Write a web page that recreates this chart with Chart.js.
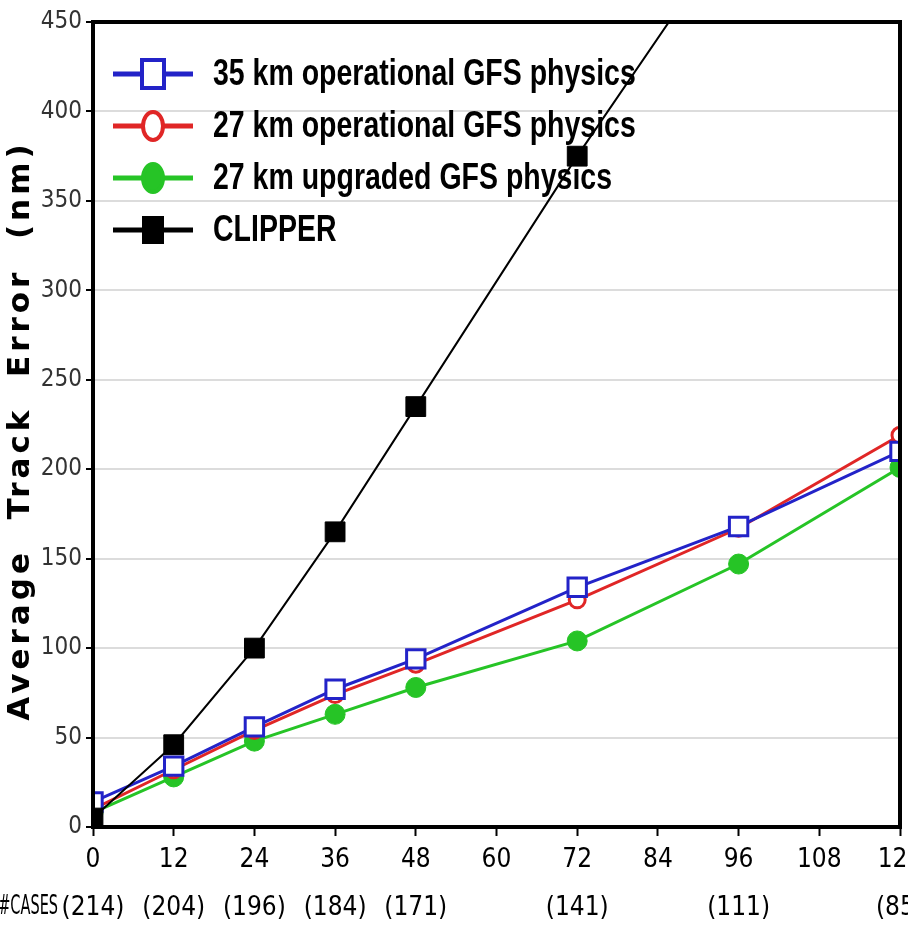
<!DOCTYPE html>
<html>
<head>
<meta charset="utf-8">
<script src="https://cdn.jsdelivr.net/npm/chart.js@4.4.0/dist/chart.umd.min.js"></script>
<style>
  html, body { margin: 0; padding: 0; background: #fff; overflow: hidden; }
  #wrap { width: 908px; height: 927px; }
</style>
</head>
<body>
<div id="wrap"><canvas id="track"></canvas></div>
<script>
// forecast hour, and the verifying case count at each hour
const hours = [0, 12, 24, 36, 48, 72, 96, 120];
const cases = [214, 204, 196, 184, 171, 141, 111, 85];

// average track error (nm)
const ops35 = [14, 34, 56, 77, 94, 134, 168, 210];
const ops27 = [10, 32, 54, 74, 91, 127, 167, 219];
const upg27 = [8, 28, 48, 63, 78, 104, 147, 201];
const clipper = [5, 46, 100, 165, 235, 375, 507, null];

const seriesNames = [
  '35 km operational GFS physics',
  '27 km operational GFS physics',
  '27 km upgraded GFS physics',
  'CLIPPER'
];

const narrow = "'DejaVu Sans Condensed', 'Liberation Sans', sans-serif";

const pts = arr => hours.map((h, i) => ({ x: h, y: arr[i] }));

// squeezed text helper (condensed look)
function squeezed(ctx, text, x, y, sx) {
  ctx.save();
  ctx.translate(x, y);
  ctx.scale(sx, 1);
  ctx.fillText(text, 0, 0);
  ctx.restore();
}

// legend drawn inside the plot, line + marker + label
const insideLegend = {
  id: 'insideLegend',
  afterDatasetsDraw(chart) {
    const ctx = chart.ctx;
    ctx.save();
    chart.data.datasets.forEach((ds, i) => {
      const y = 74 + i * 52;
      const cx = 153;
      ctx.strokeStyle = ds.borderColor;
      ctx.lineWidth = 5;
      ctx.beginPath();
      ctx.moveTo(113, y);
      ctx.lineTo(193, y);
      ctx.stroke();
      ctx.lineWidth = 4;
      ctx.fillStyle = ds.pointBackgroundColor;
      if (ds.pointStyle === 'rect') {
        ctx.fillRect(cx - 11, y - 14, 22, 28);
        if (ds.pointBackgroundColor === '#ffffff') ctx.strokeRect(cx - 11, y - 14, 22, 28);
      } else {
        ctx.beginPath();
        ctx.ellipse(cx, y, 10, 14, 0, 0, Math.PI * 2);
        ctx.fill();
        ctx.stroke();
      }
      ctx.fillStyle = '#000';
      ctx.font = "bold 37px 'Liberation Sans', Arial, sans-serif";
      ctx.textBaseline = 'middle';
      ctx.textAlign = 'left';
      squeezed(ctx, ds.label, 213, y + 1, 0.77);
    });
    ctx.restore();
  }
};

// heavy frame round the plot, axis title and the case-count caption
const frame = {
  id: 'frame',
  afterDraw(chart) {
    const { ctx, chartArea: a } = chart;
    ctx.save();
    ctx.strokeStyle = '#000';
    ctx.lineWidth = 4;
    ctx.strokeRect(a.left, a.top, a.right - a.left, a.bottom - a.top);

    ctx.fillStyle = '#000';
    ctx.font = "26px " + narrow;
    ctx.textAlign = 'right';
    ctx.textBaseline = 'middle';
    squeezed(ctx, '#CASES', 58, 907, 0.62);

    ctx.translate(21, (a.top + a.bottom) / 2 + 6);
    ctx.rotate(-Math.PI / 2);
    ctx.textAlign = 'center';
    ctx.font = "bold 31px 'DejaVu Sans', sans-serif";
    ctx.letterSpacing = '4px';
    ctx.fillText('Average  Track  Error  (nm)', 0, 0);
    ctx.restore();
  }
};

new Chart(document.getElementById('track'), {
  type: 'line',
  data: {
    datasets: [
      {
        label: seriesNames[0], data: pts(ops35),
        borderColor: '#2323c8', borderWidth: 3,
        pointStyle: 'rect', pointRadius: 13, pointBorderWidth: 3,
        pointBackgroundColor: '#ffffff', pointBorderColor: '#2323c8',
        order: 1, clip: 0
      },
      {
        label: seriesNames[1], data: pts(ops27),
        borderColor: '#e02626', borderWidth: 3,
        pointStyle: 'circle', pointRadius: 8, pointBorderWidth: 3,
        pointBackgroundColor: '#ffffff', pointBorderColor: '#e02626',
        order: 2, clip: 0
      },
      {
        label: seriesNames[2], data: pts(upg27),
        borderColor: '#26c426', borderWidth: 3,
        pointStyle: 'circle', pointRadius: 10, pointBorderWidth: 1,
        pointBackgroundColor: '#26c426', pointBorderColor: '#26c426',
        order: 3, clip: 0
      },
      {
        label: seriesNames[3], data: pts(clipper),
        borderColor: '#000000', borderWidth: 2,
        pointStyle: 'rect', pointRadius: 14, pointBorderWidth: 1,
        pointBackgroundColor: '#000000', pointBorderColor: '#000000',
        order: 0, clip: 0
      }
    ]
  },
  options: {
    responsive: true,
    maintainAspectRatio: false,
    animation: false,
    layout: { autoPadding: false, padding: { top: 22, right: 8, left: 0, bottom: 0 } },
    plugins: { legend: { display: false }, tooltip: { enabled: false } },
    scales: {
      x: {
        type: 'linear', min: 0, max: 120,
        afterFit(s) { s.paddingRight = 0; s.paddingLeft = 0; s.height = 100; },
        grid: { drawOnChartArea: false, tickLength: 9, tickColor: '#000', tickWidth: 2 },
        border: { display: false },
        ticks: {
          stepSize: 12, autoSkip: false, maxRotation: 0, padding: 0,
          color: '#000',
          font: { family: narrow, size: 26, lineHeight: 1.85 },
          callback(v) {
            const k = hours.indexOf(v);
            return [String(v), k >= 0 ? '(' + cases[k] + ')' : ''];
          }
        }
      },
      y: {
        min: 0, max: 450,
        afterFit(s) { s.width = 93; },
        grid: { color: '#dcdcdc', lineWidth: 2, tickLength: 7, tickColor: '#000', tickWidth: 2 },
        border: { display: false },
        ticks: {
          stepSize: 50, padding: 4, color: '#333',
          font: { family: narrow, size: 24 }
        }
      }
    }
  },
  plugins: [insideLegend, frame]
});
</script>
</body>
</html>
